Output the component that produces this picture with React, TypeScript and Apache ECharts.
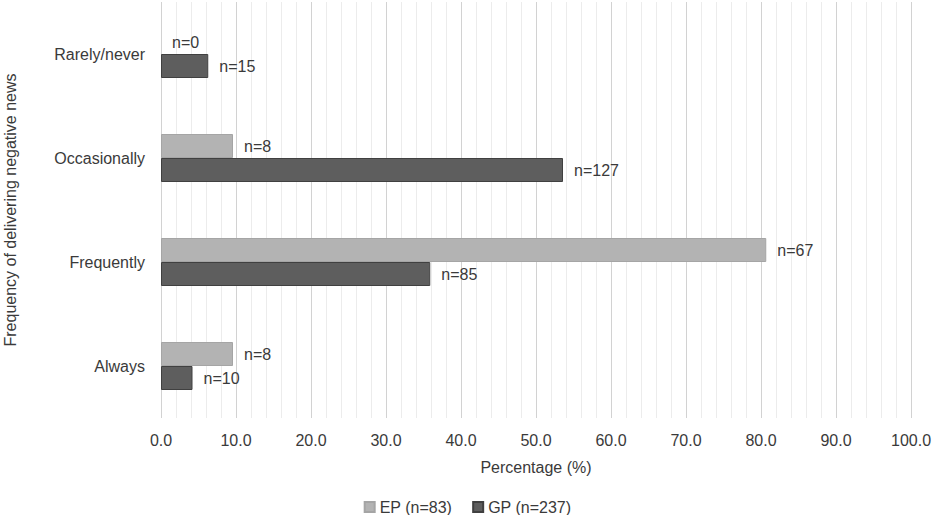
import React, { useEffect, useRef } from "react";
import * as echarts from "echarts";

const categories = ["Rarely/never", "Occasionally", "Frequently", "Always"];
const epName = "EP (n=83)";
const gpName = "GP (n=237)";
const epPercent = [0, 9.6, 80.7, 9.6];
const epCounts = [0, 8, 67, 8];
const gpPercent = [6.3, 53.6, 35.9, 4.2];
const gpCounts = [15, 127, 85, 10];
const xTicks = [0, 10, 20, 30, 40, 50, 60, 70, 80, 90, 100];

const FONT = "'Liberation Sans', Arial, sans-serif";
const TXT = "#3a3a3a";

export default function App() {
  const ref = useRef<HTMLDivElement>(null);
  useEffect(() => {
    document.body.style.margin = "0";
    const chart = echarts.init(ref.current!, null, { renderer: "svg" });
    const mkLabel = (counts: number[]) => ({
      show: true,
      position: "right" as const,
      distance: 11,
      fontSize: 16,
      fontFamily: FONT,
      color: TXT,
      formatter: (p: any) => "n=" + counts[p.dataIndex],
    });
    const mkData = (vals: number[]) =>
      vals.map((v) => (v === 0 ? { value: v, itemStyle: { borderWidth: 0 } } : v));
    chart.setOption({
      animation: false,
      textStyle: { fontFamily: FONT },
      grid: {
        left: 161,
        right: 24,
        top: 2,
        bottom: 97,
        containLabel: false,
        outerBoundsMode: "none",
      },
      legend: {
        data: [epName, gpName],
        left: "center",
        top: 494,
        icon: "rect",
        itemWidth: 10,
        itemHeight: 10,
        itemGap: 20,
        textStyle: { fontSize: 16, color: TXT, fontFamily: FONT },
      },
      xAxis: {
        type: "value",
        min: xTicks[0],
        max: xTicks[xTicks.length - 1],
        interval: 10,
        name: "Percentage (%)",
        nameLocation: "middle",
        nameGap: 41,
        nameTextStyle: { fontSize: 16, color: TXT, fontFamily: FONT },
        axisLine: { show: false },
        axisTick: { show: false },
        axisLabel: {
          fontSize: 16,
          color: TXT,
          margin: 14,
          fontFamily: FONT,
          formatter: (v: number) => v.toFixed(1),
        },
        splitLine: { show: true, lineStyle: { color: "#d2d2d2", width: 1 } },
        minorTick: { show: false, splitNumber: 5 },
        minorSplitLine: { show: true, lineStyle: { color: "#ececec", width: 1 } },
      },
      yAxis: {
        type: "category",
        data: categories,
        inverse: true,
        name: "Frequency of delivering negative news",
        nameLocation: "middle",
        nameGap: 143,
        nameTextStyle: { fontSize: 16, color: TXT, fontFamily: FONT },
        axisLine: { show: false },
        axisTick: { show: false },
        axisLabel: { fontSize: 16, color: TXT, margin: 16, fontFamily: FONT },
        splitLine: { show: false },
      },
      series: [
        {
          name: epName,
          type: "bar",
          data: mkData(epPercent),
          barWidth: 24,
          barGap: "0%",
          itemStyle: { color: "#b3b3b3", borderColor: "#a5a5a5", borderWidth: 1 },
          label: mkLabel(epCounts),
        },
        {
          name: gpName,
          type: "bar",
          data: mkData(gpPercent),
          barWidth: 24,
          barGap: "0%",
          itemStyle: { color: "#5e5e5e", borderColor: "#404040", borderWidth: 1 },
          label: mkLabel(gpCounts),
        },
      ],
    });
    return () => chart.dispose();
  }, []);
  return <div ref={ref} style={{ width: 935, height: 515 }} />;
}
